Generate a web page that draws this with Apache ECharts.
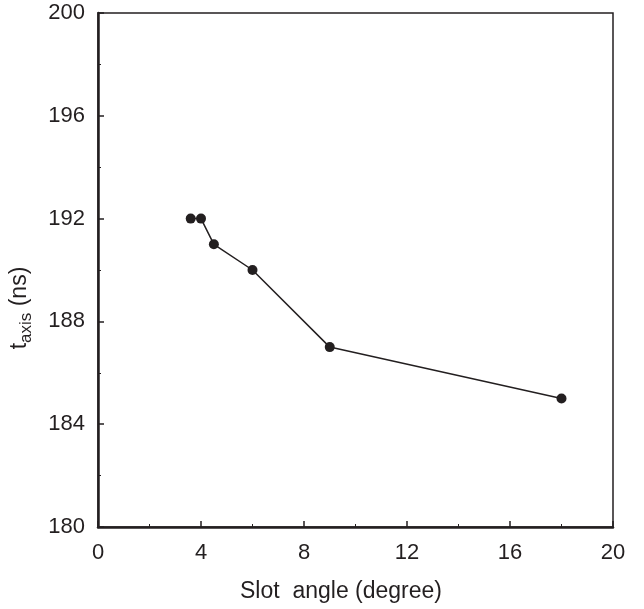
<!DOCTYPE html>
<html>
<head>
<meta charset="utf-8">
<script src="https://cdn.jsdelivr.net/npm/echarts@6/dist/echarts.min.js"></script>
<style>html,body{margin:0;padding:0;background:#fff}#c{width:644px;height:609px}</style>
</head>
<body>
<div id="c"></div>
<script>
const slotAngle = [3.6, 4.0, 4.5, 6.0, 9.0, 18.0];
const tAxis = [192, 192, 191, 190, 187, 185];
const xTicks = [0, 4, 8, 12, 16, 20];
const yTicks = [180, 184, 188, 192, 196, 200];

const ink = '#231f20';
const font = 'Liberation Sans, Arial, Helvetica, sans-serif';
const chart = echarts.init(document.getElementById('c'), null, {renderer: 'canvas'});
chart.setOption({
  backgroundColor: '#fff',
  animation: false,
  grid: {left: 98, top: 13, right: 31, bottom: 82, show: true, borderColor: ink, borderWidth: 1.5, backgroundColor: 'transparent'},
  xAxis: {
    type: 'value', min: xTicks[0], max: xTicks[xTicks.length-1], interval: 4,
    axisLine: {show: true, onZero: false, lineStyle: {color: ink, width: 2.5}},
    axisTick: {show: true, inside: true, length: 6, lineStyle: {color: ink, width: 1.5}},
    minorTick: {show: true, splitNumber: 2, length: 3, lineStyle: {color: ink, width: 1}},
    splitLine: {show: false},
    axisLabel: {color: ink, fontSize: 22, fontFamily: font, margin: 15}
  },
  yAxis: {
    type: 'value', min: yTicks[0], max: yTicks[yTicks.length-1], interval: 4,
    axisLine: {show: true, onZero: false, lineStyle: {color: ink, width: 2.5}},
    axisTick: {show: true, inside: true, length: 6, lineStyle: {color: ink, width: 1.5}},
    minorTick: {show: true, splitNumber: 2, length: 3, lineStyle: {color: ink, width: 1}},
    splitLine: {show: false},
    axisLabel: {color: ink, fontSize: 22, fontFamily: font, margin: 13}
  },
  graphic: [
    {type: 'text', left: 240, top: 580, style: {text: 'Slot  angle (degree)', font: '23px ' + font, fill: ink}},
    {type: 'text', x: 20, y: 308, rotation: Math.PI/2, originX: 0, originY: 0,
     style: {text: '{t|t}{s|axis}{t| (ns)}', fill: ink, align: 'center', verticalAlign: 'middle',
       rich: {t: {fontSize: 23, fontFamily: font, fill: ink}, s: {fontSize: 17, fontFamily: font, fill: ink, padding: [12, 0, 0, 0]}}}}
  ],
  series: [{
    type: 'line',
    data: slotAngle.map((x, i) => [x, tAxis[i]]),
    symbol: 'circle', symbolSize: 10,
    lineStyle: {color: ink, width: 1.5},
    itemStyle: {color: ink}
  }]
});
</script>
</body>
</html>
